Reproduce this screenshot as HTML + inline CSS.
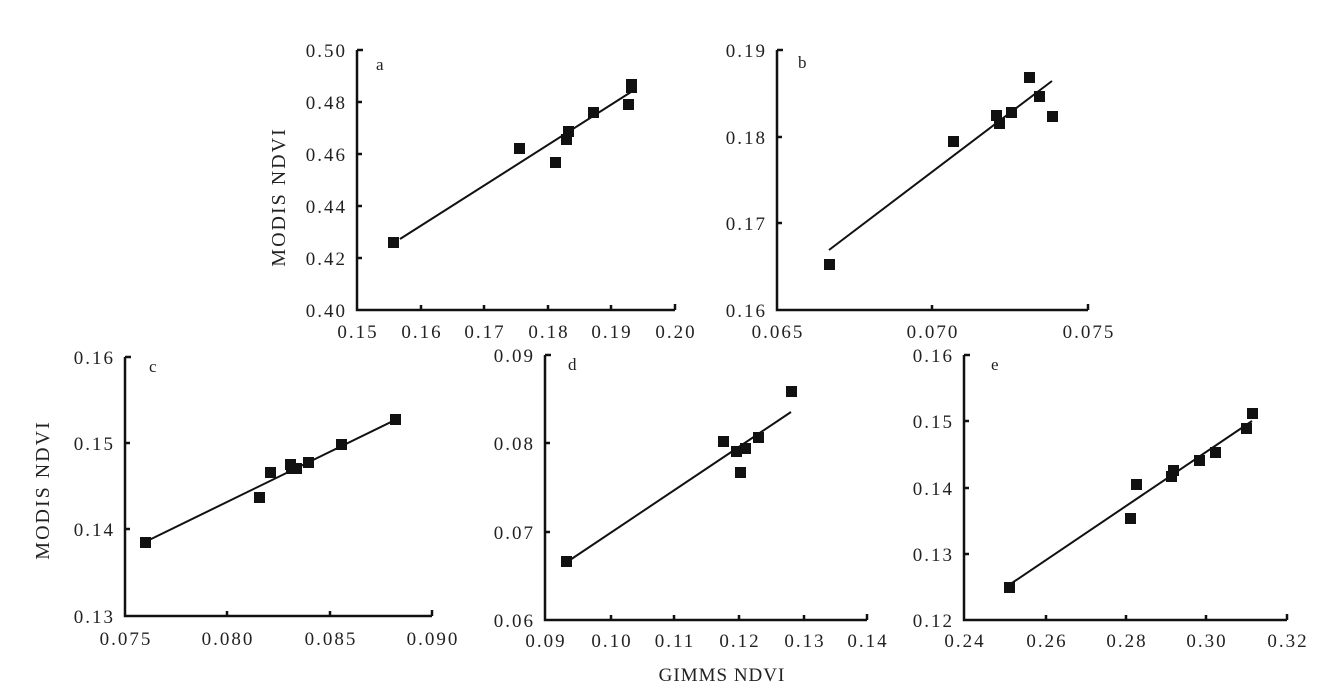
<!DOCTYPE html>
<html><head><meta charset="utf-8"><style>
html,body{margin:0;padding:0;background:#fff;}
svg text{font-family:"Liberation Serif",serif;fill:#222;}
</style></head><body>
<svg width="1320" height="686" xmlns="http://www.w3.org/2000/svg">
<g stroke="#111" stroke-width="2.5" fill="none">
<path d="M357,50 h6 M357,50 V310 H675 M357,102 h5 M357,154 h5 M357,206 h5 M357,258 h5 M421,310 v-5 M484,310 v-5 M548,310 v-5 M611,310 v-5 M675,310 v-6"/>
<path d="M777,50 h6 M777,50 V310 H1088 M777,137 h5 M777,223 h5 M932,310 v-5 M1088,310 v-6"/>
<path d="M125,357 h6 M125,357 V616 H432 M125,443 h5 M125,529 h5 M227,616 v-5 M330,616 v-5 M432,616 v-6"/>
<path d="M545,355 h6 M545,355 V620 H867 M545,443 h5 M545,532 h5 M611,620 v-5 M674,620 v-5 M739,620 v-5 M804,620 v-5 M867,620 v-6"/>
<path d="M964,355 h6 M964,355 V620 H1287 M964,421 h5 M964,488 h5 M964,554 h5 M1046,620 v-5 M1126,620 v-5 M1206,620 v-5 M1287,620 v-6"/>
</g>
<g stroke="#111" stroke-width="2">
<line x1="400" y1="239" x2="631" y2="92"/>
<line x1="829" y1="250" x2="1052" y2="81"/>
<line x1="145" y1="542" x2="395" y2="420"/>
<line x1="567" y1="562" x2="791" y2="412"/>
<line x1="1009" y1="585" x2="1252" y2="421"/>
</g>
<g fill="#111">
<rect x="388" y="237" width="11" height="11"/><rect x="514" y="143" width="11" height="11"/><rect x="550" y="157" width="11" height="11"/><rect x="561" y="134" width="11" height="11"/><rect x="563" y="126" width="11" height="11"/><rect x="588" y="107" width="11" height="11"/><rect x="623" y="99" width="11" height="11"/><rect x="626" y="79" width="11" height="11"/><rect x="626" y="82" width="11" height="11"/>
<rect x="824" y="259" width="11" height="11"/><rect x="948" y="136" width="11" height="11"/><rect x="991" y="110" width="11" height="11"/><rect x="994" y="118" width="11" height="11"/><rect x="1006" y="107" width="11" height="11"/><rect x="1024" y="72" width="11" height="11"/><rect x="1034" y="91" width="11" height="11"/><rect x="1047" y="111" width="11" height="11"/>
<rect x="140" y="537" width="11" height="11"/><rect x="254" y="492" width="11" height="11"/><rect x="265" y="467" width="11" height="11"/><rect x="285" y="459" width="11" height="11"/><rect x="286" y="463" width="11" height="11"/><rect x="291" y="463" width="11" height="11"/><rect x="303" y="457" width="11" height="11"/><rect x="336" y="439" width="11" height="11"/><rect x="390" y="414" width="11" height="11"/>
<rect x="561" y="556" width="11" height="11"/><rect x="718" y="436" width="11" height="11"/><rect x="731" y="446" width="11" height="11"/><rect x="735" y="467" width="11" height="11"/><rect x="740" y="443" width="11" height="11"/><rect x="753" y="432" width="11" height="11"/><rect x="786" y="386" width="11" height="11"/>
<rect x="1004" y="582" width="11" height="11"/><rect x="1125" y="513" width="11" height="11"/><rect x="1131" y="479" width="11" height="11"/><rect x="1166" y="471" width="11" height="11"/><rect x="1168" y="465" width="11" height="11"/><rect x="1194" y="455" width="11" height="11"/><rect x="1210" y="447" width="11" height="11"/><rect x="1241" y="423" width="11" height="11"/><rect x="1247" y="408" width="11" height="11"/>
</g>
<g font-size="19" letter-spacing="2" text-anchor="end">
<text x="347" y="57">0.50</text><text x="347" y="109">0.48</text><text x="347" y="161">0.46</text><text x="347" y="213">0.44</text><text x="347" y="265">0.42</text><text x="347" y="317">0.40</text>
<text x="767" y="57">0.19</text><text x="767" y="144">0.18</text><text x="767" y="230">0.17</text><text x="767" y="317">0.16</text>
<text x="115" y="364">0.16</text><text x="115" y="450">0.15</text><text x="115" y="536">0.14</text><text x="115" y="623">0.13</text>
<text x="535" y="362">0.09</text><text x="535" y="450">0.08</text><text x="535" y="539">0.07</text><text x="535" y="627">0.06</text>
<text x="954" y="362">0.16</text><text x="954" y="428">0.15</text><text x="954" y="495">0.14</text><text x="954" y="561">0.13</text><text x="954" y="627">0.12</text>
</g>
<g font-size="19" letter-spacing="2" text-anchor="middle">
<text x="358" y="338">0.15</text><text x="422" y="338">0.16</text><text x="485" y="338">0.17</text><text x="549" y="338">0.18</text><text x="612" y="338">0.19</text><text x="676" y="338">0.20</text>
<text x="778" y="338">0.065</text><text x="933" y="338">0.070</text><text x="1089" y="338">0.075</text>
<text x="126" y="645">0.075</text><text x="228" y="645">0.080</text><text x="331" y="645">0.085</text><text x="433" y="645">0.090</text>
<text x="546" y="647">0.09</text><text x="612" y="647">0.10</text><text x="675" y="647">0.11</text><text x="740" y="647">0.12</text><text x="805" y="647">0.13</text><text x="868" y="647">0.14</text>
<text x="965" y="647">0.24</text><text x="1047" y="647">0.26</text><text x="1127" y="647">0.28</text><text x="1207" y="647">0.30</text><text x="1288" y="647">0.32</text>
<text x="722" y="681" font-size="19" letter-spacing="1">GIMMS NDVI</text>
<text transform="translate(285,197) rotate(-90)" font-size="20" letter-spacing="2">MODIS  NDVI</text>
<text transform="translate(49,490) rotate(-90)" font-size="20" letter-spacing="2">MODIS  NDVI</text>
</g>
<g font-size="17">
<text x="376" y="70">a</text><text x="798" y="68">b</text><text x="149" y="372">c</text><text x="568" y="370">d</text><text x="991" y="370">e</text>
</g>
</svg>
</body></html>
